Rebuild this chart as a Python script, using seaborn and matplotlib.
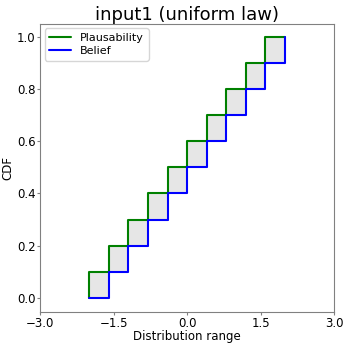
import matplotlib
matplotlib.use("Agg")
import matplotlib.pyplot as plt
import seaborn as sns
import pandas as pd

sns.set_style("white")
plt.rcParams['font.family'] = ['DejaVu Sans']
plt.rcParams['text.color'] = 'black'
plt.rcParams['axes.labelcolor'] = 'black'
plt.rcParams['xtick.color'] = 'black'
plt.rcParams['ytick.color'] = 'black'

# data
edges = [-2.0, -1.6, -1.2, -0.8, -0.4, 0.0, 0.4, 0.8, 1.2, 1.6, 2.0]
belief = [0.0, 0.1, 0.2, 0.3, 0.4, 0.5, 0.6, 0.7, 0.8, 0.9, 1.0]
plaus = [0.1, 0.2, 0.3, 0.4, 0.5, 0.6, 0.7, 0.8, 0.9, 1.0, 1.0]
x_ticks = [-3.0, -1.5, 0.0, 1.5, 3.0]
y_ticks = [0.0, 0.2, 0.4, 0.6, 0.8, 1.0]

fig, ax = plt.subplots(figsize=(3.44, 3.43), dpi=100)
fig.subplots_adjust(left=0.117, right=0.971, top=0.93, bottom=0.09)

ax.fill_between(edges, belief, plaus, step='post', color='#e6e6e6', edgecolor='#b0b0b0', linewidth=0.5, zorder=1)

dp = pd.DataFrame({'x': [edges[0]] + edges, 'y': [belief[0]] + plaus})
db = pd.DataFrame({'x': edges, 'y': belief})
sns.lineplot(data=dp, x='x', y='y', sort=False, estimator=None, drawstyle='steps-post',
             color='green', linewidth=1.5, label='Plausability', ax=ax, zorder=3)
sns.lineplot(data=db, x='x', y='y', sort=False, estimator=None, drawstyle='steps-post',
             color='blue', linewidth=1.5, label='Belief', ax=ax, zorder=3)

ax.set_xlim(-3, 3)
ax.set_ylim(-0.055, 1.05)
ax.set_xticks(x_ticks)
ax.set_xticklabels([f"{t:.1f}".replace('-', '\u2212') for t in x_ticks])
ax.set_yticks(y_ticks)
ax.tick_params(labelsize=8.5, length=2, pad=1.5, color='#808080', bottom=True, left=True)
for s in ax.spines.values():
    s.set_color('#808080')
ax.set_xlabel('Distribution range', fontsize=8.5, labelpad=0)
ax.set_ylabel('CDF', fontsize=8.5, labelpad=2)
ax.set_title('input1 (uniform law)', fontsize=13, pad=3)
ax.legend(loc='upper left', fontsize=8, frameon=True, borderaxespad=0.4,
          handlelength=2.0, labelspacing=0.3)

fig.savefig('out.png', dpi=100)
